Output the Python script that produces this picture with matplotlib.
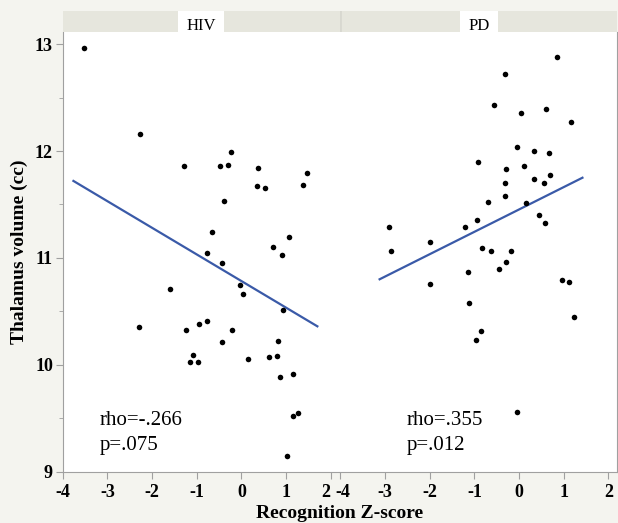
import matplotlib
matplotlib.use('Agg')
from matplotlib import pyplot as plt
from matplotlib.ticker import MultipleLocator
from matplotlib.transforms import ScaledTranslation

plt.rcParams['font.family'] = ['Liberation Serif', 'DejaVu Serif']
plt.rcParams['axes.unicode_minus'] = False

# HIV group: recognition z-score vs thalamus volume
hiv_x = [-3.52, -2.26, -1.29, -0.48, -0.29, -0.24, 0.38, 0.35, 0.52, 1.37,
         1.46, -0.38, -0.66, 1.06, 0.70, 0.91, -0.76, -0.43, -1.59, -0.03,
         0.03, 0.94, -2.29, -1.24, -0.95, -0.78, -0.21, -0.44, 0.81, -1.08,
         -1.15, -0.98, 0.15, 0.61, 0.79, 0.86, 1.15, 1.16, 1.27, 1.02]
hiv_y = [12.96, 12.16, 11.86, 11.86, 11.87, 11.99, 11.84, 11.67, 11.65, 11.68,
         11.79, 11.53, 11.24, 11.20, 11.10, 11.03, 11.05, 10.95, 10.71, 10.75,
         10.66, 10.51, 10.35, 10.33, 10.38, 10.41, 10.33, 10.21, 10.22, 10.09,
         10.03, 10.03, 10.05, 10.07, 10.08, 9.89, 9.91, 9.52, 9.55, 9.15]

# PD group
pd_x = [0.85, -0.32, -0.55, 0.04, 0.61, 1.16, -0.04, 0.34, 0.67, -0.92,
        0.11, -0.29, 0.34, 0.69, 0.56, -0.31, -0.31, -0.69, 0.15, 0.44,
        0.58, -0.95, -1.21, -2.92, -2.00, -2.87, -0.82, -0.62, -0.17, -0.29,
        -0.45, -1.15, -2.00, 0.96, 1.13, -1.12, 1.22, -0.86, -0.97, -0.04]
pd_y = [12.88, 12.72, 12.43, 12.36, 12.39, 12.27, 12.04, 12.00, 11.98, 11.90,
        11.86, 11.83, 11.74, 11.78, 11.70, 11.70, 11.58, 11.52, 11.51, 11.40,
        11.33, 11.35, 11.29, 11.29, 11.15, 11.06, 11.09, 11.06, 11.06, 10.96,
        10.90, 10.87, 10.76, 10.79, 10.77, 10.58, 10.45, 10.32, 10.23, 9.56]

# fit line end points
hiv_fit_x = [-3.76, 1.70]
hiv_fit_y = [11.72, 10.36]
pd_fit_x = [-3.12, 1.42]
pd_fit_y = [10.80, 11.75]

panels = ['HIV', 'PD']
stats = [('rho=-.266', 'p=.075'), ('rho=.355', 'p=.012')]
text_x = [-3.18, -2.52]
x_ticks = [-4, -3, -2, -1, 0, 1, 2]
x_labels = ['-4', '-3', '-2', '-1', '0', '1', '2']

BG = '#f4f4ef'
STRIP = '#e6e6dd'
GRAY = '#a0a0a0'
BLUE = '#3a5aa8'

fig = plt.figure(figsize=(6.18, 5.23), dpi=100, facecolor=BG)

W, H = 618.0, 523.0
ax_left = [62.7, 340.3]
ax_w = 277.0
ax_bottom = (H - 471.7) / H
ax_h = 440.0 / H

data = [(hiv_x, hiv_y, hiv_fit_x, hiv_fit_y), (pd_x, pd_y, pd_fit_x, pd_fit_y)]
label_box = [46.0, 38.6]

for i, (xs, ys, fx, fy) in enumerate(data):
    ax = fig.add_axes([ax_left[i] / W, ax_bottom, ax_w / W, ax_h])
    ax.set_facecolor('white')
    ax.scatter(xs, ys, s=16, color='black', zorder=3, linewidths=0)
    ax.plot(fx, fy, color=BLUE, lw=1.6, zorder=2)
    ax.set_xlim(-4, 2.2)
    ax.set_ylim(9, 13.116)
    ax.set_xticks(x_ticks, labels=x_labels, fontweight='bold')
    ax.tick_params(axis='x', direction='out', length=5, color=GRAY,
                   labelsize=13, pad=4)
    # nudge the labels where the two panels meet, as the original does
    labs = ax.get_xticklabels()
    if i == 0:
        labs[-1].set_transform(labs[-1].get_transform() +
                               ScaledTranslation(-5 / 100, 0, fig.dpi_scale_trans))
    else:
        labs[0].set_transform(labs[0].get_transform() +
                              ScaledTranslation(3 / 100, 0, fig.dpi_scale_trans))
    for s in ['top', 'left', 'right', 'bottom']:
        ax.spines[s].set_color(GRAY)
    ax.spines['top'].set_visible(False)
    if i == 0:
        ax.spines['right'].set_visible(False)
        ax.yaxis.set_major_locator(MultipleLocator(1))
        ax.yaxis.set_minor_locator(MultipleLocator(0.5))
        ax.tick_params(axis='y', which='both', direction='out', color=GRAY,
                       labelsize=13, pad=2)
        ax.tick_params(axis='y', which='major', length=5)
        ax.tick_params(axis='y', which='minor', length=3)
        for lab in ax.get_yticklabels():
            lab.set_fontweight('bold')
        ax.set_ylabel('Thalamus volume (cc)', fontsize=14, fontweight='bold',
                      labelpad=5)
    else:
        ax.spines['left'].set_visible(False)
        ax.set_yticks([])

    ax.text(text_x[i], 9.436, stats[i][0], fontsize=15, va='baseline')
    ax.text(text_x[i], 9.20, stats[i][1], fontsize=15, va='baseline')

    # strip header
    sax = fig.add_axes([ax_left[i] / W, (H - 31.7) / H, ax_w / W, 20.7 / H])
    sax.set_facecolor(STRIP)
    sax.set_xlim(0, 1)
    sax.set_ylim(0, 1)
    sax.set_xticks([])
    sax.set_yticks([])
    for s in sax.spines.values():
        s.set_visible(False)
    if i == 1:
        sax.axvline(0, color='#d8d8d0', lw=2)
    bw = label_box[i] / ax_w
    sax.axvspan(0.5 - bw / 2, 0.5 + bw / 2, color='white', lw=0)
    sax.text(0.5, 0.06, panels[i], ha='center', va='baseline', fontsize=12)

fig.text(340 / W, (H - 513) / H, 'Recognition Z-score', ha='center',
         va='center', fontsize=14, fontweight='bold')

fig.savefig('out.png', dpi=100, facecolor=BG)
